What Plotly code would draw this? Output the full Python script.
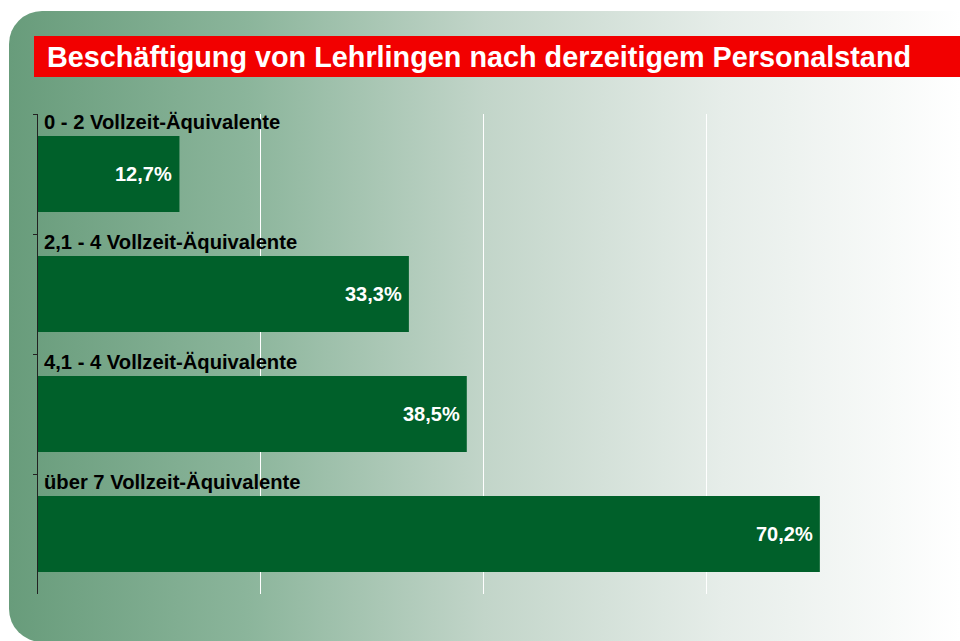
import base64
import plotly.graph_objects as go

# ---- data ----
categories = [
    "0 - 2 Vollzeit-Äquivalente",
    "2,1 - 4 Vollzeit-Äquivalente",
    "4,1 - 4 Vollzeit-Äquivalente",
    "über 7 Vollzeit-Äquivalente",
]
values = [12.7, 33.3, 38.5, 70.2]
grid_ticks = [20, 40, 60]
title_text = "Beschäftigung von Lehrlingen nach derzeitigem Personalstand"

W, H = 960, 641
FONT = "Liberation Sans, Arial, sans-serif"
BAR_COLOR = "#00602a"

# background: rounded panel with horizontal green-to-white gradient
svg = f"""<svg xmlns='http://www.w3.org/2000/svg' width='{W}' height='{H}' viewBox='0 0 {W} {H}'>
<defs><linearGradient id='g' x1='9' y1='0' x2='{W}' y2='0' gradientUnits='userSpaceOnUse'>
<stop offset='0' stop-color='#689c7b'/>
<stop offset='0.25' stop-color='#8bb59b'/>
<stop offset='0.5' stop-color='#c2d5c9'/>
<stop offset='0.75' stop-color='#e6ede9'/>
<stop offset='1' stop-color='#ffffff'/>
</linearGradient></defs>
<rect x='9' y='11' width='1000' height='631' rx='33' ry='33' fill='url(#g)'/>
</svg>"""
svg_uri = "data:image/svg+xml;base64," + base64.b64encode(svg.encode("utf-8")).decode("ascii")

def px_x(p):
    return p / W

def px_y(p):
    return 1 - p / H

fig = go.Figure()
fig.add_trace(go.Bar(
    x=values, y=categories, orientation="h",
    marker=dict(color=BAR_COLOR, line=dict(width=0)),
    hoverinfo="skip",
))

annotations = []
# title
annotations.append(dict(
    text=f"<b>{title_text}</b>", xref="paper", yref="paper",
    x=px_x(45), y=px_y(57), xanchor="left", yanchor="middle",
    showarrow=False, font=dict(family=FONT, size=28.8, color="white"),
))
for cat, v in zip(categories, values):
    annotations.append(dict(
        text=f"<b>{cat}</b>", xref="x", yref="y", x=0, y=cat,
        xanchor="left", yanchor="middle", xshift=4, yshift=52,
        showarrow=False, font=dict(family=FONT, size=20.2, color="black"),
    ))
    label = f"{v:.1f}".replace(".", ",") + "%"
    annotations.append(dict(
        text=f"<b>{label}</b>", xref="x", yref="y", x=v, y=cat,
        xanchor="right", yanchor="middle", xshift=-5,
        showarrow=False, font=dict(family=FONT, size=20, color="white"),
    ))

fig.update_layout(
    width=W, height=H, autosize=False,
    margin=dict(l=0, r=0, t=0, b=0),
    paper_bgcolor="white", plot_bgcolor="rgba(0,0,0,0)",
    showlegend=False, bargap=0.365,
    images=[dict(source=svg_uri, xref="paper", yref="paper", x=0, y=1,
                 sizex=1, sizey=1, xanchor="left", yanchor="top",
                 sizing="stretch", layer="below")],
    shapes=[dict(type="rect", xref="paper", yref="paper",
                 x0=px_x(34), x1=1.0, y0=px_y(77), y1=px_y(36),
                 fillcolor="#f20000", line=dict(width=0), layer="below")],
    annotations=annotations,
    xaxis=dict(domain=[px_x(38), px_x(929)], range=[0, 80],
               tickvals=grid_ticks, showticklabels=False,
               showgrid=True, gridcolor="white", gridwidth=1,
               zeroline=False, showline=False, ticks=""),
    yaxis=dict(domain=[px_y(594), px_y(114)], range=[len(categories) - 0.5, -0.5],
               type="category", showticklabels=False, showgrid=False,
               zeroline=False, showline=True, linecolor="#222222", linewidth=1,
               ticks="outside", ticklen=4, tickcolor="#222222",
               tickson="boundaries"),
)

fig.write_html(
    "out.html",
    config={"displayModeBar": False, "staticPlot": True},
    post_script="document.body.style.margin='0';document.body.style.padding='0';",
)
